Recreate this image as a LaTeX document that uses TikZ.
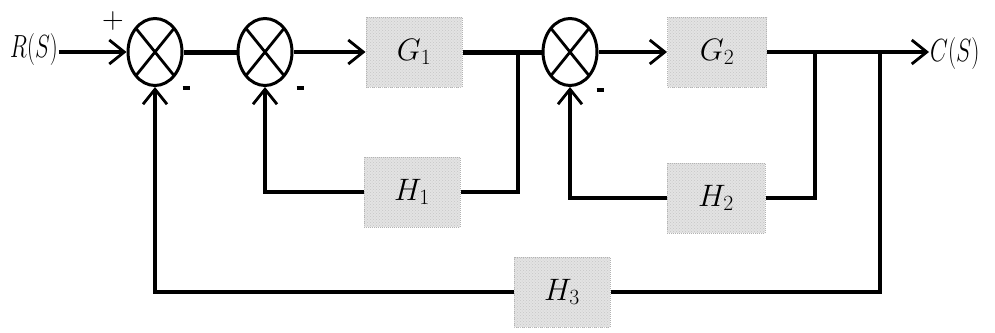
\RequirePackage{fix-cm}
\documentclass[tikz,border=0pt]{standalone}
\usepackage{graphicx}
\usetikzlibrary{arrows.meta,shapes.geometric,patterns}

\tikzset{
  wire/.style={line width=3.1pt, line join=miter},
  heavy/.style={line width=5pt},
  arr/.style={wire, -{Straight Barb[length=15pt, width=24pt, line width=2.8pt]}},
  summer/.style={ellipse, draw, line width=3pt, minimum width=54pt, minimum height=67pt,
    inner sep=0pt,
    path picture={\draw[line width=2.8pt]
      (path picture bounding box.north west) -- (path picture bounding box.south east)
      (path picture bounding box.south west) -- (path picture bounding box.north east);}},
  block/.style={rectangle, fill=gray!22, draw=gray!60, densely dotted, line width=1pt,
    minimum width=96pt, minimum height=70pt, inner sep=0pt,
    postaction={pattern=crosshatch dots, pattern color=gray!45},
    font=\fontsize{31}{34}\selectfont},
  sign/.style={font=\fontsize{30}{32}\selectfont, inner sep=0pt},
  label/.style={font=\fontsize{32}{35}\selectfont, inner sep=1pt}
}

\begin{document}
\begin{tikzpicture}[x=1pt, y=-1pt]
  \useasboundingbox (0,0) rectangle (995,332);

  % input and output signals
  \node[label] (in) at (34,50) {\scalebox{0.7}[1]{$R(S)$}};
  \node[label, anchor=west] (out) at (929,54) {\scalebox{0.72}[1]{$C(S)$}};

  % summing junctions
  \node[summer] (s1) at (155,52) {};
  \node[summer] (s2) at (265,52) {};
  \node[summer] (s3) at (570,52) {};

  % forward and feedback blocks
  \node[block] (g1) at (414,52) {$G_1$};
  \node[block, minimum width=99pt] (g2) at (717,52) {$G_2$};
  \node[block] (h1) at (412,192) {$H_1$};
  \node[block, minimum width=98pt] (h2) at (716,198) {$H_2$};
  \node[block] (h3) at (562,292) {$H_3$};

  % signs at the junctions
  \node[sign] (p1) at (113,21) {$+$};
  \node[sign] (m1) at (186,88) {\rule{7pt}{3.5pt}};
  \node[sign] (m2) at (300,88) {\rule{7pt}{3.5pt}};
  \node[sign] (m3) at (600,90) {\rule{7pt}{3.5pt}};

  % pick-off points
  \coordinate (b1) at (518,52);
  \coordinate (b2) at (815,52);
  \coordinate (b3) at (880,52);

  % forward path
  \draw[arr] (in.east |- s1) -- (s1);
  \draw[heavy] (s1) -- (s2);
  \draw[arr] (s2) -- (g1);
  \draw[heavy] (g1) -- (s3);
  \draw[arr] (s3) -- (g2);
  \draw[arr] (g2) -- (out.west |- g2);

  % inner feedback loops
  \draw[wire] (b1) |- (h1.east);
  \draw[arr] (h1.west) -| (s2.south);
  \draw[wire] (b2) |- (h2.east);
  \draw[arr] (h2.west) -| (s3.south);

  % outer feedback loop
  \draw[wire] (b3) |- (h3.east);
  \draw[arr] (h3.west) -| (s1.south);
\end{tikzpicture}
\end{document}
